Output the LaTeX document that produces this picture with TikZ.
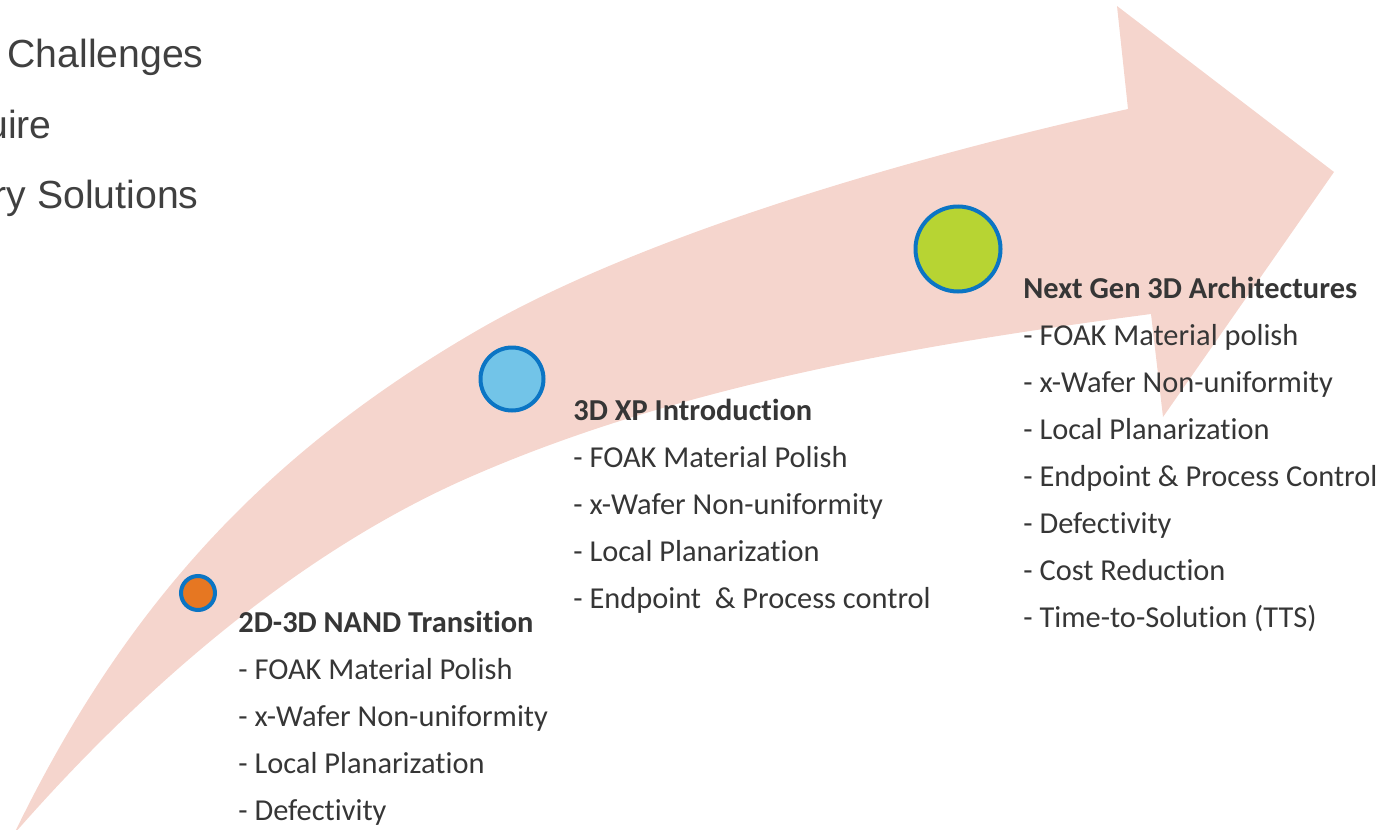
\documentclass[tikz,border=0pt]{standalone}
\usepackage{fontspec}
\setmainfont{Carlito}[Ligatures=NoCommon]
\newfontfamily\arialf{Liberation Sans}
\definecolor{arrowpink}{HTML}{F5D5CD}
\definecolor{ringblue}{HTML}{0B75C4}
\definecolor{dotorange}{HTML}{E67722}
\definecolor{dotsky}{HTML}{72C4E8}
\definecolor{dotgreen}{HTML}{B7D433}
\definecolor{txtgray}{HTML}{363636}
\definecolor{headgray}{HTML}{404040}
\tikzset{
  bodytxt/.style={anchor=base west, inner sep=0pt, text=txtgray, font=\fontsize{15.2pt}{18pt}\selectfont},
  titletxt/.style={bodytxt, font=\fontsize{15.2pt}{18pt}\selectfont\bfseries},
  headtxt/.style={anchor=base east, inner sep=0pt, text=headgray, font=\arialf\fontsize{19.6pt}{24pt}\selectfont},
  dot/.style={circle, draw=ringblue, line width=2pt, inner sep=0pt}
}
\begin{document}
\begin{tikzpicture}[x=0.5pt,y=-0.5pt]
\useasboundingbox (0,0) rectangle (1387,830);
% big curved arrow
\coordinate (tail) at (14,834);
\coordinate (un) at (1128,109);
\coordinate (hu) at (1117,6);
\coordinate (tip) at (1334,172);
\coordinate (hl) at (1163,417);
\coordinate (ln) at (1151,314);
\fill[arrowpink] (tail)
  .. controls (123,609) and (262,455) .. (478,330)
  .. controls (651,230) and (933,152) .. (un)
  -- (hu) -- (tip) -- (hl) -- (ln)
  .. controls (923,344) and (680,385) .. (470,477)
  .. controls (296,553) and (139,691) .. (tail)
  -- cycle;
% heading fragments
\node[headtxt] (h1) at (204,67) {Challenges};
\node[headtxt] (h2) at (52,138) {uire};
\node[headtxt] (h3) at (199,208) {ry Solutions};
% milestones
\node[dot, fill=dotorange, minimum size=17pt] (m1) at (198,593) {};
\node[dot, fill=dotsky, minimum size=31.5pt] (m2) at (512,379) {};
\node[dot, fill=dotgreen, minimum size=42.5pt] (m3) at (958,249) {};
% block 1
\node[titletxt] (t1) at (238,632) {2D-3D NAND Transition};
\foreach \s [count=\i] in {{- FOAK Material Polish},{- x-Wafer Non-uniformity},{- Local Planarization},{- Defectivity}}
  \node[bodytxt] (a\i) at (238,632+47*\i) {\s};
% block 2
\node[titletxt] (t2) at (573,420) {3D XP Introduction};
\foreach \s [count=\i] in {{- FOAK Material Polish},{- x-Wafer Non-uniformity},{- Local Planarization},{- Endpoint\ \ \& Process control}}
  \node[bodytxt] (b\i) at (573,420+47*\i) {\s};
% block 3
\node[titletxt] (t3) at (1023,298) {Next Gen 3D Architectures};
\foreach \s [count=\i] in {{- FOAK Material polish},{- x-Wafer Non-uniformity},{- Local Planarization},{- Endpoint \& Process Control},{- Defectivity},{- Cost Reduction},{- Time-to-Solution (TTS)}}
  \node[bodytxt] (c\i) at (1023,298+47*\i) {\s};
\end{tikzpicture}
\end{document}
